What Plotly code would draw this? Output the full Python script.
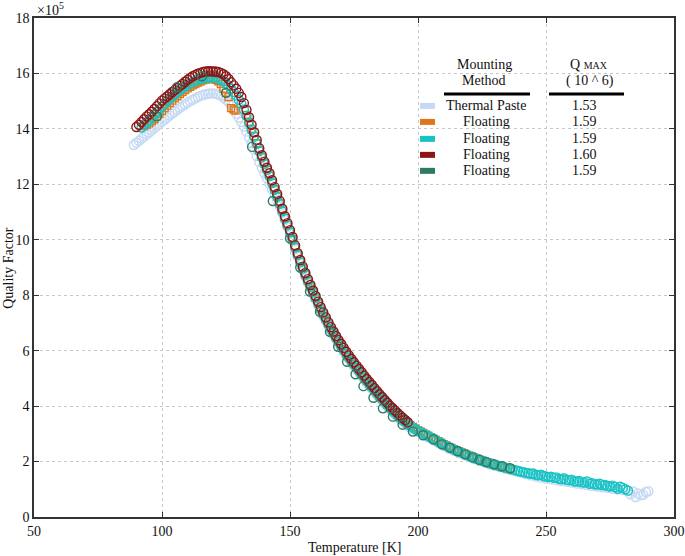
import plotly.graph_objects as go

# ---------------- data (Q in units of 1e5) ----------------
paste_T = list(range(89, 201)) + list(range(202, 283, 2)) + [283, 284, 285, 286, 287, 288, 289, 290]
paste_Q = [13.42, 13.5, 13.57, 13.65, 13.72, 13.8, 13.87, 13.95, 14.03, 14.1, 14.18, 14.26, 14.33, 14.41,
           14.48, 14.55, 14.62, 14.69, 14.76, 14.82, 14.88, 14.94, 15.0, 15.05, 15.1, 15.15, 15.19, 15.22,
           15.25, 15.27, 15.28, 15.28, 15.27, 15.24, 15.2, 15.13, 15.05, 14.97, 14.85, 14.7, 14.55, 14.4,
           14.25, 14.08, 13.9, 13.7, 13.48, 13.25, 13.02, 12.8, 12.6, 12.4,
           12.22, 12.02, 11.82, 11.62, 11.42, 11.2, 10.97, 10.71, 10.46, 10.21, 9.94, 9.66, 9.39, 9.14,
           8.9, 8.67, 8.45, 8.24, 8.04, 7.84, 7.64, 7.44, 7.25, 7.07, 6.89, 6.72, 6.56, 6.4, 6.25, 6.1,
           5.96, 5.82, 5.69, 5.56, 5.44, 5.32, 5.2, 5.08, 4.96, 4.84, 4.73, 4.62, 4.51, 4.4, 4.29, 4.19,
           4.08, 3.98, 3.88, 3.79, 3.7, 3.61, 3.52, 3.44, 3.36, 3.29, 3.23, 3.17, 3.11, 3.06,
           2.97, 2.87, 2.77, 2.67, 2.57, 2.47, 2.39, 2.31, 2.23, 2.16, 2.09, 2.02, 1.96, 1.9, 1.85, 1.8, 1.75,
           1.7, 1.65, 1.6, 1.55, 1.5, 1.46, 1.42, 1.39, 1.36, 1.33, 1.3, 1.27, 1.24, 1.21, 1.18, 1.15, 1.12,
           1.1, 1.07, 1.05, 1.02, 1.0, 0.97, 0.95,
           0.82, 0.92, 0.72, 0.85, 0.78, 0.8, 0.9, 0.93]

orange_T = list(range(93, 127)) + [127, 128, 128.7] + list(range(133, 237))
orange_Q = [14.1, 14.15, 14.2, 14.27, 14.35, 14.45, 14.55, 14.65, 14.75, 14.84, 14.93, 15.02, 15.1, 15.18,
            15.26, 15.33, 15.4, 15.46, 15.52, 15.57, 15.62, 15.67, 15.71, 15.75, 15.78, 15.8, 15.81, 15.8,
            15.77, 15.72, 15.62, 15.45, 15.3, 15.15,
            14.75, 14.7, 14.66,
            14.5, 14.25, 14.0, 13.74, 13.48, 13.22, 12.99, 12.76, 12.54, 12.32, 12.07, 11.82, 11.57, 11.32,
            11.05, 10.79, 10.54, 10.29, 10.02, 9.74, 9.47, 9.22, 8.98, 8.75, 8.53, 8.32, 8.12, 7.92, 7.72,
            7.52, 7.33, 7.15, 6.97, 6.8, 6.64, 6.48, 6.33, 6.18, 6.04, 5.9, 5.77, 5.64, 5.52, 5.4, 5.28,
            5.16, 5.04, 4.92, 4.81, 4.7, 4.59, 4.48, 4.37, 4.27, 4.16, 4.06, 3.96, 3.87, 3.78, 3.69, 3.6,
            3.52, 3.44, 3.37, 3.31, 3.25, 3.19, 3.13, 3.08, 3.03, 2.98, 2.93, 2.88, 2.83, 2.78, 2.73, 2.68,
            2.63, 2.58, 2.53, 2.49, 2.45, 2.41, 2.37, 2.33, 2.29, 2.25, 2.21, 2.18, 2.14, 2.11, 2.07, 2.04,
            2.01, 1.98, 1.95, 1.92, 1.89, 1.87, 1.84, 1.82, 1.79, 1.76, 1.74]

cyan_T = list(range(92, 283))
cyan_Q = [14.05, 14.13, 14.22, 14.3, 14.4, 14.5, 14.6, 14.7, 14.8, 14.9, 15.0, 15.08, 15.17, 15.25, 15.33,
          15.4, 15.47, 15.53, 15.59, 15.64, 15.69, 15.73, 15.77, 15.8, 15.82, 15.84, 15.85, 15.86, 15.86,
          15.85, 15.82, 15.78, 15.72, 15.64, 15.55, 15.45, 15.33, 15.2, 15.05,
          14.9, 14.7, 14.47, 14.22, 13.97, 13.72, 13.46, 13.2, 12.97, 12.74, 12.52, 12.3, 12.05, 11.8,
          11.55, 11.3, 11.03, 10.77, 10.52, 10.27, 10.0, 9.72, 9.45, 9.2, 8.96, 8.73, 8.51, 8.3, 8.1, 7.9,
          7.7, 7.5, 7.31, 7.13, 6.95, 6.78, 6.62, 6.46, 6.31, 6.16, 6.02, 5.88, 5.75, 5.62, 5.5, 5.38,
          5.26, 5.14, 5.02, 4.9, 4.79, 4.68, 4.57, 4.46, 4.35, 4.25, 4.14, 4.04, 3.94, 3.85, 3.76, 3.67,
          3.58, 3.5, 3.42, 3.35, 3.29, 3.23, 3.17, 3.12, 3.07, 3.02, 2.97, 2.92, 2.87, 2.82, 2.77, 2.72,
          2.67, 2.62, 2.57, 2.52, 2.48, 2.44, 2.4, 2.36, 2.32, 2.28, 2.24, 2.2, 2.17, 2.13, 2.1, 2.06,
          2.03, 2.0, 1.97, 1.94, 1.91, 1.88, 1.86, 1.83, 1.81, 1.78, 1.76, 1.73, 1.71, 1.69,
          1.66, 1.64, 1.62, 1.6, 1.58, 1.56, 1.57, 1.52, 1.5, 1.53, 1.48, 1.46, 1.44, 1.45, 1.41, 1.43,
          1.38, 1.36, 1.4, 1.34, 1.32, 1.35, 1.29, 1.28, 1.3, 1.25, 1.24, 1.28, 1.2, 1.22, 1.18, 1.17,
          1.2, 1.14, 1.16, 1.12, 1.1, 1.13, 1.08, 1.02, 1.09, 1.05, 1.0, 0.95]

red_T = list(range(90, 197))
red_Q = [14.07, 14.15, 14.25, 14.35, 14.45, 14.53, 14.62, 14.72, 14.82, 14.92, 15.02, 15.1, 15.17, 15.25,
         15.33, 15.4, 15.47, 15.55, 15.62, 15.7, 15.77, 15.84, 15.9, 15.95, 15.99, 16.02, 16.05, 16.07,
         16.08, 16.08, 16.07, 16.07, 16.05, 16.02, 15.97, 15.9, 15.8, 15.68, 15.57, 15.45, 15.3,
         15.15, 14.93, 14.68, 14.42, 14.15, 13.88, 13.6, 13.3, 13.05, 12.82, 12.6, 12.4, 12.15, 11.9,
         11.65, 11.4, 11.12, 10.85, 10.6, 10.35, 10.1, 9.8, 9.52, 9.27, 9.03, 8.8, 8.58, 8.37, 8.17,
         7.97, 7.77, 7.57, 7.38, 7.2, 7.02, 6.85, 6.69, 6.53, 6.38, 6.24, 6.1, 5.96, 5.83, 5.7, 5.58,
         5.46, 5.34, 5.22, 5.1, 4.98, 4.87, 4.76, 4.65, 4.54, 4.43, 4.33, 4.22, 4.12, 4.02, 3.93, 3.84,
         3.75, 3.66, 3.58, 3.5, 3.42]

green_T = [98, 105.8, 115.6, 125, 135.2, 143.3, 150, 154, 157.8, 161.7, 165.6, 168.8, 172.3, 175.6, 178.7,
           182.6, 186.3, 190.2, 194, 198, 202, 206, 209.3, 212.5, 215.5, 218.5, 221.3, 224, 226.7, 229.7,
           232.8, 236]
green_Q = [14.45, 15.5, 15.9, 15.3, 13.35, 11.4, 10.05, 9.0, 8.13, 7.4, 6.68, 6.14, 5.6, 5.15, 4.72,
           4.3, 3.92, 3.62, 3.33, 3.08, 2.95, 2.8, 2.62, 2.5, 2.37, 2.26, 2.15, 2.06, 1.98, 1.9,
           1.83, 1.76]

methods = ["Thermal Paste", "Floating", "Floating", "Floating", "Floating"]
qmax = ["1.53", "1.59", "1.59", "1.60", "1.59"]
colors = ["#c6d9f4", "#e0761a", "#17c3c3", "#8c1616", "#2f7a63"]

x_ticks = [50, 100, 150, 200, 250, 300]
y_ticks = [0, 2, 4, 6, 8, 10, 12, 14, 16, 18]

FONT = "Liberation Serif"

fig = go.Figure()
series = [(paste_T, paste_Q, "circle-open", 9), (orange_T, orange_Q, "square-open", 7),
          (cyan_T, cyan_Q, "circle-open", 9), (red_T, red_Q, "circle-open", 9),
          (green_T, green_Q, "circle-open", 9)]
for i, (tx, qy, sym, sz) in enumerate(series):
    fig.add_trace(go.Scatter(x=tx, y=qy, mode="markers", name=methods[i], showlegend=False,
                             marker=dict(symbol=sym, size=sz, color=colors[i],
                                         line=dict(width=1.4, color=colors[i]))))

axis_common = dict(showline=True, linecolor="#333333", linewidth=1.5, mirror="ticks", ticks="inside",
                   ticklen=5, tickwidth=1.2, tickcolor="#333333", showgrid=True, gridcolor="#c8c8c8",
                   griddash="dot", gridwidth=1, zeroline=False, automargin=False,
                   tickfont=dict(family=FONT, size=14, color="#111111"))
fig.update_xaxes(range=[50, 300], tickvals=x_ticks, **axis_common)
fig.update_yaxes(range=[0, 18], tickvals=y_ticks, **axis_common)

# paper coordinates helpers (plot area px: x 34..674, y 18..517.5)
def px(x):
    return (x - 34) / 640.0

def py(y):
    return (517.5 - y) / 499.5

txt_font = dict(family=FONT, size=14, color="#111")
ann = []

def text(x, y, s, **kw):
    d = dict(x=px(x), y=py(y), xref="paper", yref="paper", text=s, showarrow=False,
             xanchor="center", yanchor="middle", font=txt_font)
    d.update(kw)
    ann.append(d)

text(354, 548, "Temperature [K]")
text(9, 268, "Quality Factor", textangle=-90)
text(35, 9, "×10<sup>5</sup>", xanchor="left")
text(484, 65, "Mounting")
text(484, 81, "Method")
text(589, 65, "Q <span style='font-size:10px'>MAX</span>")
text(590, 81, "( 10 ^ 6)")
row_y = [106, 122, 139, 155, 171]
shapes = [
    dict(type="line", xref="paper", yref="paper", x0=px(444), x1=px(530), y0=py(94), y1=py(94),
         line=dict(color="black", width=3)),
    dict(type="line", xref="paper", yref="paper", x0=px(549), x1=px(624), y0=py(94), y1=py(94),
         line=dict(color="black", width=3)),
]
for i in range(5):
    text(486, row_y[i], methods[i])
    text(584, row_y[i], qmax[i])
    shapes.append(dict(type="rect", xref="paper", yref="paper", x0=px(420), x1=px(435),
                       y0=py(row_y[i] + 3), y1=py(row_y[i] - 3), fillcolor=colors[i],
                       line=dict(width=0)))

fig.update_layout(width=685, height=556, margin=dict(l=34, r=11, t=18, b=38.5, autoexpand=False),
                  paper_bgcolor="white", plot_bgcolor="white", annotations=ann, shapes=shapes,
                  font=dict(family=FONT))
fig.write_html("out.html", config={"displayModeBar": False},
               post_script="document.body.style.margin='0';")
